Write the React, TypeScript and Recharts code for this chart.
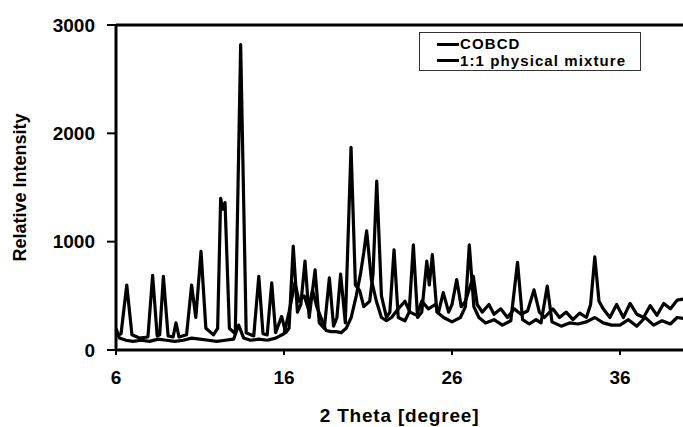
import React from 'react';
import { LineChart, Line, XAxis, YAxis, ReferenceLine, Legend } from 'recharts';

// 2 theta positions / intensities
const cobcdTheta = [
  6.0, 6.2, 6.6, 7.0, 7.5, 8.0, 8.5, 9.0, 9.5, 10.0,
  10.5, 11.0, 11.5, 12.0, 12.5, 13.0, 13.3, 13.6, 14.0, 14.5,
  15.0, 15.5, 16.0, 16.3, 16.65, 16.9, 17.2, 17.45, 17.7, 17.95,
  18.2, 18.5, 18.8, 19.1, 19.4, 19.7, 20.0, 20.3, 20.55, 20.75,
  20.92, 21.2, 21.5, 21.8, 22.1, 22.4, 22.8, 23.2, 23.5, 23.9,
  24.2, 24.6, 25.0, 25.2, 25.48, 25.8, 26.0, 26.28, 26.55, 26.8,
  27.27, 27.5, 27.8, 28.2, 28.5, 28.9, 29.3, 29.7, 30.1, 30.5,
  30.88, 31.2, 31.5, 32.0, 32.4, 32.8, 33.2, 33.6, 34.0, 34.25,
  34.5, 34.75, 35.0, 35.4, 35.8, 36.2, 36.6, 37.0, 37.4, 37.8,
  38.2, 38.6, 39.0, 39.4, 39.8,
];
const cobcdIntensity = [
  200, 110, 90, 80, 90, 80, 100, 90, 80, 90,
  110, 100, 90, 80, 90, 100, 230, 110, 90, 100,
  90, 110, 150, 350, 620, 450, 500, 380, 550, 400,
  300, 180, 170, 170, 160, 200, 300, 500, 700, 900,
  1100, 650, 450, 300, 270, 300, 380, 450, 350, 320,
  450, 380, 420, 350, 530, 350, 420, 650, 400, 450,
  680, 420, 350, 420, 330, 380, 300, 380, 330, 360,
  555, 350, 300, 380, 300, 350, 280, 340, 300, 420,
  860, 450, 380, 300, 420, 300, 430, 330, 300, 410,
  320, 430, 380, 460, 470,
];

const mixTheta = [
  6.0, 6.3, 6.64, 6.95, 7.4, 7.9, 8.18, 8.45, 8.6, 8.82,
  9.1, 9.4, 9.57, 9.75, 10.2, 10.5, 10.75, 11.06, 11.35, 11.8,
  12.05, 12.23, 12.36, 12.49, 12.75, 13.1, 13.42, 13.75, 14.2, 14.5,
  14.75, 15.0, 15.27, 15.5, 15.86, 16.1, 16.3, 16.55, 16.8, 17.0,
  17.25, 17.5, 17.85, 18.1, 18.4, 18.7, 18.95, 19.15, 19.37, 19.65,
  19.99, 20.25, 20.5, 20.75, 21.1, 21.3, 21.52, 21.8, 22.1, 22.3,
  22.55, 22.8, 23.2, 23.45, 23.7, 23.95, 24.2, 24.5, 24.65, 24.83,
  25.1, 25.5, 26.0, 26.5, 26.8, 27.03, 27.3, 27.6, 28.0, 28.5,
  29.0, 29.5, 29.9, 30.2, 30.6, 31.0, 31.3, 31.67, 31.95, 32.5,
  33.0, 33.5, 34.0, 34.5, 35.0, 35.5, 36.0, 36.5, 37.0, 37.5,
  38.0, 38.5, 39.0, 39.4, 39.8,
];
const mixIntensity = [
  130, 150, 600, 140, 110, 120, 690, 130, 140, 680,
  130, 120, 250, 120, 140, 600, 300, 910, 200, 140,
  200, 1400, 1300, 1360, 200, 150, 2820, 160, 130, 680,
  150, 140, 620, 160, 310, 160, 200, 960, 350, 420,
  820, 300, 740, 250, 200, 665, 220, 300, 700, 250,
  1870, 600, 550, 400, 450, 700, 1560, 500, 300, 350,
  925, 300, 270, 350, 970, 300, 350, 820, 600, 880,
  350, 300, 260, 300, 400, 970, 400, 300, 250, 280,
  230, 270, 810, 280, 240, 280, 250, 590, 260, 220,
  250, 240, 260, 300, 250, 230, 230, 280, 220, 300,
  230, 270, 240, 300, 290,
];

const seriesNames = ['COBCD', '1:1 physical mixture'];
const xTicks = [6, 16, 26, 36];
const yTicks = [0, 1000, 2000, 3000];

const cobcdData = cobcdTheta.map((x, i) => ({ x, y: cobcdIntensity[i] }));
const mixData = mixTheta.map((x, i) => ({ x, y: mixIntensity[i] }));

const FONT = '"Liberation Sans", Arial, sans-serif';

const LegendBox = (props: any) => {
  const { payload = [] } = props;
  // keep the order of the original legend (COBCD on top)
  const items = [...payload].sort(
    (a: any, b: any) => seriesNames.indexOf(a.value) - seriesNames.indexOf(b.value)
  );
  return (
    <div
      style={{
        border: '1.5px solid #333',
        background: '#fff',
        width: 222,
        height: 39,
        padding: '3px 0 0 4px',
        boxSizing: 'border-box',
        fontFamily: FONT,
        fontWeight: 700,
        fontSize: 15,
        letterSpacing: 1.1,
        lineHeight: '16.5px',
        color: '#000',
      }}
    >
      {items.map((entry: any) => (
        <div key={entry.value} style={{ display: 'flex', alignItems: 'center' }}>
          <span style={{ display: 'inline-block', width: 22, height: 3, background: '#000', marginLeft: 13, marginRight: 1 }} />
          <span>{entry.value}</span>
        </div>
      ))}
    </div>
  );
};

export default function App() {
  return (
    <div style={{ width: 683, height: 427, background: '#fff' }}>
      <style>{'body{margin:0;background:#fff}'}</style>
      <LineChart width={683} height={427} margin={{ top: 25, right: 0, left: 0, bottom: 0 }}>
        <XAxis
          type="number"
          dataKey="x"
          domain={[6, 39.75]}
          allowDataOverflow
          ticks={xTicks}
          tickSize={5}
          tickMargin={16}
          height={77}
          axisLine={{ stroke: '#000', strokeWidth: 3 }}
          tickLine={{ stroke: '#000', strokeWidth: 2 }}
          tick={{ fill: '#000', fontSize: 19, fontWeight: 700, fontFamily: FONT }}
          label={{
            value: '2 Theta [degree]',
            position: 'insideBottom',
            offset: 5,
            style: { fill: '#000', fontSize: 19, fontWeight: 700, fontFamily: FONT, letterSpacing: 0.8 },
          }}
        />
        <YAxis
          type="number"
          dataKey="y"
          domain={[0, 3000]}
          allowDataOverflow
          ticks={yTicks}
          width={116}
          tickSize={9}
          tickMargin={12}
          axisLine={{ stroke: '#000', strokeWidth: 3 }}
          tickLine={{ stroke: '#000', strokeWidth: 2 }}
          tick={{ fill: '#000', fontSize: 19, fontWeight: 700, fontFamily: FONT }}
          label={{
            value: 'Relative Intensity',
            angle: -90,
            position: 'insideLeft',
            offset: 20,
            style: { textAnchor: 'middle', fill: '#000', fontSize: 18, fontWeight: 700, fontFamily: FONT },
          }}
        />
        <ReferenceLine y={3000} stroke="#000" strokeWidth={3} ifOverflow="visible" />
        <Legend
          layout="horizontal"
          verticalAlign="middle"
          align="center"
          wrapperStyle={{ left: 419, top: 32, width: 222 }}
          content={<LegendBox />}
        />
        <Line
          data={cobcdData}
          dataKey="y"
          name="COBCD"
          type="linear"
          stroke="#000"
          strokeWidth={3.2}
          strokeLinejoin="round"
          dot={false}
          isAnimationActive={false}
        />
        <Line
          data={mixData}
          dataKey="y"
          name="1:1 physical mixture"
          type="linear"
          stroke="#000"
          strokeWidth={3.2}
          strokeLinejoin="round"
          dot={false}
          isAnimationActive={false}
        />
      </LineChart>
    </div>
  );
}
